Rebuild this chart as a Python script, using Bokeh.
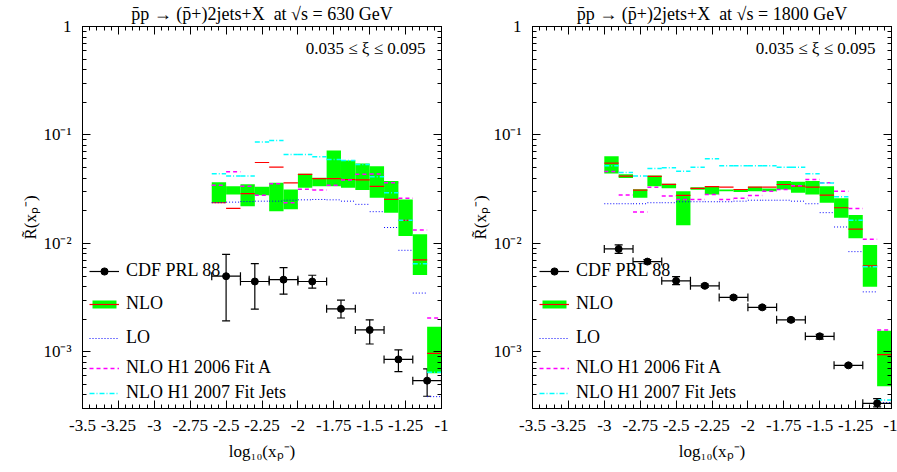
from bokeh.plotting import figure
from bokeh.models import (Range1d, FixedTicker, CustomJSTickFormatter, LinearAxis, LogAxis,
                          Label, Legend, LegendItem, Whisker, TeeHead, ColumnDataSource)
from bokeh.layouts import row
from bokeh.embed import file_html
from bokeh.resources import INLINE

FONT = "Liberation Serif"

# ---------------- tick labels ----------------
x_ticks = [-3.5, -3.25, -3.0, -2.75, -2.5, -2.25, -2.0, -1.75, -1.5, -1.25, -1.0]
x_tick_labels = ["-3.5", "-3.25", "-3", "-2.75", "-2.5", "-2.25", "-2", "-1.75", "-1.5", "-1.25", "-1"]
y_ticks = [1e-3, 1e-2, 1e-1, 1.0]
y_tick_labels = ["10\u207b\u00b3", "10\u207b\u00b2", "10\u207b\u00b9", "1"]

cdf_half_width = 0.1

# ---------------- 630 GeV ----------------
edges_630 = [-2.6, -2.5, -2.4, -2.3, -2.2, -2.1, -2.0, -1.9, -1.8, -1.7, -1.6, -1.5, -1.4, -1.3, -1.2, -1.1, -1.0]
nlo_hi_630 = [0.0367, 0.0337, 0.0350, 0.0332, 0.0362, 0.0314, 0.0438, 0.0402, 0.0718, 0.0581, 0.0546, 0.0515, 0.0375, 0.0254, 0.01213, 0.00170]
nlo_lo_630 = [0.0237, 0.0283, 0.0220, 0.0278, 0.0198, 0.0206, 0.0326, 0.0337, 0.0337, 0.0326, 0.0310, 0.0264, 0.0192, 0.0117, 0.00512, 0.000633]
nlo_c_630 = [0.0237, 0.0210, 0.0287, 0.0557, 0.0504, 0.0362, 0.0433, 0.0396, 0.0396, 0.0388, 0.0385, 0.0335, 0.0254, 0.0163, 0.00703, 0.000967]
lo_630 = [0.0237, 0.0240, 0.0243, 0.0245, 0.0245, 0.0250, 0.0252, 0.0254, 0.0252, 0.0245, 0.0229, 0.0196, 0.0140, 0.00863, 0.00348, 0.000386]
h1a_630 = [0.0344, 0.0457, 0.0337, 0.0278, 0.0355, 0.0237, 0.0316, 0.0310, 0.0344, 0.0385, 0.0433, 0.0436, 0.0362, 0.0260, 0.01328, 0.00205]
h1j_630 = [0.0438, 0.0417, 0.0417, 0.0862, 0.0887, 0.0660, 0.0660, 0.0628, 0.0593, 0.0581, 0.0534, 0.0411, 0.0293, 0.0163, 0.0065, 0.000647]
cdf_x_630 = [-2.5, -2.3, -2.1, -1.9, -1.7, -1.5, -1.3, -1.1]
cdf_y_630 = [0.00498, 0.00445, 0.00463, 0.00445, 0.00249, 0.00159, 0.000851, 0.000542]
cdf_up_630 = [0.00793, 0.0065, 0.00598, 0.00508, 0.00299, 0.00197, 0.00104, 0.000695]
cdf_dn_630 = [0.00193, 0.00248, 0.00340, 0.00386, 0.00205, 0.00118, 0.000656, 0.000389]

# ---------------- 1800 GeV ----------------
edges_1800 = [-3.0, -2.9, -2.8, -2.7, -2.6, -2.5, -2.4, -2.3, -2.2, -2.1, -2.0, -1.9, -1.8, -1.7, -1.6, -1.5, -1.4, -1.3, -1.2, -1.1, -1.0]
nlo_hi_1800 = [0.0637, 0.0435, 0.0315, 0.0423, 0.0355, 0.0303, 0.0330, 0.0337, 0.0314, 0.0316, 0.0332, 0.0321, 0.0375, 0.0370, 0.0375, 0.0337, 0.0260, 0.01825, 0.00966, 0.00156]
nlo_lo_1800 = [0.0440, 0.0400, 0.0264, 0.0337, 0.0322, 0.01466, 0.0312, 0.0283, 0.0303, 0.0298, 0.0303, 0.0303, 0.0314, 0.0293, 0.0283, 0.0237, 0.0172, 0.01114, 0.00397, 0.000480]
nlo_c_1800 = [0.0549, 0.0417, 0.0310, 0.0414, 0.0350, 0.0277, 0.0321, 0.0333, 0.0330, 0.0314, 0.0330, 0.0330, 0.0349, 0.0337, 0.0330, 0.0278, 0.0213, 0.01356, 0.00619, 0.000940]
lo_1800 = [0.0232, 0.0232, 0.0232, 0.0237, 0.0237, 0.0242, 0.0242, 0.0242, 0.0242, 0.0245, 0.0250, 0.0250, 0.0250, 0.0245, 0.0232, 0.0192, 0.01416, 0.00839, 0.00357, 0.00034]
h1a_1800 = [0.0460, 0.0280, 0.0195, 0.0330, 0.0273, 0.0254, 0.0254, 0.0283, 0.0254, 0.0260, 0.0277, 0.0303, 0.0314, 0.0340, 0.0389, 0.0362, 0.0303, 0.0210, 0.0109, 0.00159]
h1j_1800 = [0.0520, 0.0450, 0.0417, 0.0490, 0.0497, 0.0463, 0.0503, 0.0602, 0.0520, 0.0520, 0.0520, 0.0520, 0.0503, 0.0503, 0.0438, 0.0360, 0.0269, 0.0163, 0.0061, 0.00036]
cdf_x_1800 = [-2.9, -2.7, -2.5, -2.3, -2.1, -1.9, -1.7, -1.5, -1.3, -1.1]
cdf_y_1800 = [0.00888, 0.00679, 0.00451, 0.00406, 0.00317, 0.00257, 0.00197, 0.00139, 0.000750, 0.000335]
cdf_up_1800 = [0.0097, 0.0071, 0.00494, 0.00420, 0.00327, 0.00265, 0.00204, 0.00145, 0.000770, 0.00037]
cdf_dn_1800 = [0.0081, 0.0065, 0.00417, 0.00392, 0.00307, 0.00249, 0.00190, 0.00131, 0.000730, 0.00031]

legend_labels = ["CDF PRL 88", "NLO", "LO", "NLO H1 2006 Fit A", "NLO H1 2007 Fit Jets"]

FRAME_W = 359
FRAME_H = 383
BORDER_L = 82
BORDER_T = 25
BORDER_B = 64


def tick_formatter(tvals, tlabs):
    return CustomJSTickFormatter(args=dict(tvals=tvals, tlabs=tlabs), code="""
        for (let i = 0; i < tvals.length; i++) {
            if (Math.abs(tvals[i] - tick) <= 1e-9 * Math.max(1, Math.abs(tick))) { return tlabs[i]; }
        }
        return "";
    """)


def log_minor():
    out = []
    for k in range(-4, 0):
        for m in range(2, 10):
            v = m * 10.0 ** k
            if 3e-4 <= v <= 1.0:
                out.append(v)
    return out


def x_minor():
    return [round(-3.5 + 0.05 * i, 4) for i in range(51)]


def style_axis(ax):
    ax.axis_line_color = "black"
    ax.axis_line_width = 1
    ax.major_tick_in = 8
    ax.major_tick_out = 0
    ax.minor_tick_in = 4
    ax.minor_tick_out = 0
    ax.major_tick_line_color = "black"
    ax.minor_tick_line_color = "black"
    ax.major_label_text_font = FONT
    ax.major_label_text_font_size = "17px"
    ax.major_label_text_color = "black"
    ax.axis_label_text_font = FONT
    ax.axis_label_text_font_size = "17px"
    ax.axis_label_text_font_style = "normal"
    ax.axis_label_text_color = "black"


def make_panel(title, edges, hi, lo, c, lov, h1a, h1j, cx, cy, cup, cdn, border_right):
    width = BORDER_L + FRAME_W + border_right
    height = BORDER_T + FRAME_H + BORDER_B
    p = figure(width=width, height=height, x_range=Range1d(-3.5, -1.0), y_range=Range1d(3e-4, 1.0),
               y_axis_type="log", output_backend="svg", toolbar_location=None,
               min_border_left=BORDER_L, min_border_right=border_right,
               min_border_top=BORDER_T, min_border_bottom=BORDER_B)
    p.xgrid.visible = False
    p.ygrid.visible = False
    p.outline_line_color = "black"
    p.outline_line_width = 1
    p.background_fill_color = "white"
    p.border_fill_color = "white"

    p.xaxis.ticker = FixedTicker(ticks=x_ticks, minor_ticks=x_minor())
    p.xaxis.formatter = tick_formatter(x_ticks, x_tick_labels)
    p.yaxis.ticker = FixedTicker(ticks=y_ticks, minor_ticks=log_minor())
    p.yaxis.formatter = tick_formatter(y_ticks, y_tick_labels)
    for ax in list(p.xaxis) + list(p.yaxis):
        style_axis(ax)
    p.xaxis.axis_label = "log\u2081\u2080(x\u209a\u207b)"
    p.yaxis.axis_label = "R\u0303(x\u209a\u207b)"
    p.xaxis.major_label_standoff = 11
    p.xaxis.axis_label_standoff = 8
    p.yaxis.major_label_standoff = 11
    p.yaxis.axis_label_standoff = 0

    empty = CustomJSTickFormatter(code="return '';")
    top = LinearAxis(ticker=FixedTicker(ticks=x_ticks, minor_ticks=x_minor()), formatter=empty)
    right = LogAxis(ticker=FixedTicker(ticks=y_ticks, minor_ticks=log_minor()), formatter=empty)
    style_axis(top)
    style_axis(right)
    for ax in (top, right):
        ax.major_label_standoff = 0
        ax.major_label_text_font_size = "0px"
    top.axis_label = title
    top.axis_label_text_font_size = "18px"
    top.axis_label_standoff = 3
    p.add_layout(top, "above")
    p.add_layout(right, "right")

    left_e = edges[:-1]
    right_e = edges[1:]
    band = p.quad(left=left_e, right=right_e, bottom=lo, top=hi, fill_color="#00ff00", line_color=None)
    red = p.segment(x0=left_e, x1=right_e, y0=c, y1=c, line_color="#ff0000", line_width=1.2)
    lol = p.segment(x0=left_e, x1=right_e, y0=lov, y1=lov, line_color="#0000ff", line_width=1, line_dash="1 2")
    h1al = p.segment(x0=left_e, x1=right_e, y0=h1a, y1=h1a, line_color="#ff00ff", line_width=1.5, line_dash="4 3")
    h1jl = p.segment(x0=left_e, x1=right_e, y0=h1j, y1=h1j, line_color="#00ffff", line_width=1.5, line_dash="5 2 1 2")

    src = ColumnDataSource(dict(x=cx, y=cy, up=cup, dn=cdn,
                                xl=[v - cdf_half_width for v in cx], xh=[v + cdf_half_width for v in cx]))
    hbar = p.segment(x0="xl", x1="xh", y0="y", y1="y", source=src, line_color="black", line_width=1.2)
    p.add_layout(Whisker(source=src, base="x", upper="up", lower="dn", dimension="height",
                         line_color="black", line_width=1.2,
                         upper_head=TeeHead(size=8, line_color="black", line_width=1.2),
                         lower_head=TeeHead(size=8, line_color="black", line_width=1.2)))
    p.add_layout(Whisker(source=src, base="y", upper="xh", lower="xl", dimension="width",
                         line_alpha=0,
                         upper_head=TeeHead(size=8, line_color="black", line_width=1.2),
                         lower_head=TeeHead(size=8, line_color="black", line_width=1.2)))
    pts = p.scatter("x", "y", source=src, size=7, color="black")

    p.add_layout(Label(x=FRAME_W - 16, y=FRAME_H - 23, x_units="screen", y_units="screen",
                       text="0.035 \u2264 \u03be \u2264 0.095",
                       text_align="right", text_baseline="middle", text_font=FONT,
                       text_font_size="17px", text_color="black"))

    rend_sets = [[hbar, pts], [band, red], [lol], [h1al], [h1jl]]
    centers = [137, 104, 70, 40, 15]
    gh = [18, 10, 10, 10, 10]
    for lab, rs, cy_, g in zip(legend_labels, rend_sets, centers, gh):
        leg = Legend(items=[LegendItem(label=lab, renderers=rs)], location=(7, cy_ - 10),
                     padding=0, margin=0, spacing=0, glyph_width=30, glyph_height=g,
                     label_height=20, label_standoff=7, border_line_color=None,
                     background_fill_alpha=0, label_text_font=FONT, label_text_font_size="18px",
                     label_text_color="black", label_text_baseline="middle")
        p.add_layout(leg)
    return p


p1 = make_panel("p\u0304p \u2192 (p\u0304+)2jets+X\u00a0\u00a0at \u221as = 630 GeV",
                edges_630, nlo_hi_630, nlo_lo_630, nlo_c_630, lo_630, h1a_630, h1j_630,
                cdf_x_630, cdf_y_630, cdf_up_630, cdf_dn_630, border_right=9)
p2 = make_panel("p\u0304p \u2192 (p\u0304+)2jets+X\u00a0\u00a0at \u221as = 1800 GeV",
                edges_1800, nlo_hi_1800, nlo_lo_1800, nlo_c_1800, lo_1800, h1a_1800, h1j_1800,
                cdf_x_1800, cdf_y_1800, cdf_up_1800, cdf_dn_1800, border_right=6)

layout = row(p1, p2)
open("out.html", "w").write(file_html(layout, INLINE))
